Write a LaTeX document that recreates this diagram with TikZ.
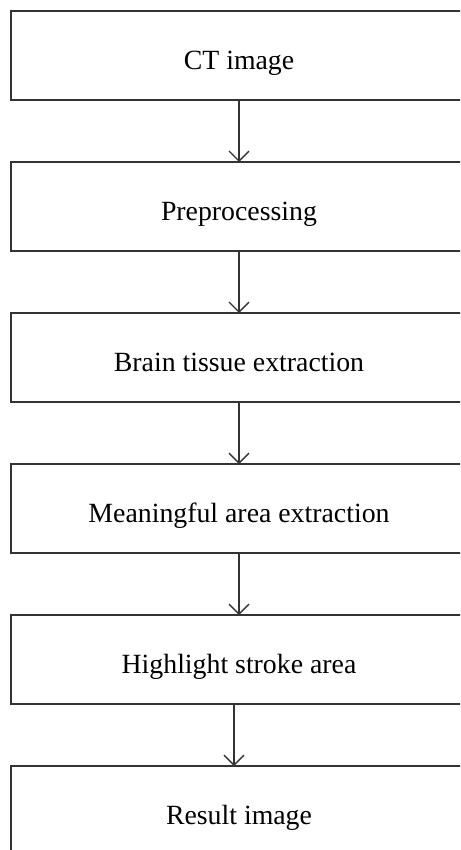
\documentclass[tikz,border=0pt]{standalone}
\usepackage{fontspec}
\setmainfont{Liberation Serif}
\usetikzlibrary{positioning,arrows.meta}

\begin{document}
\begin{tikzpicture}[x=1pt,y=1pt,inner sep=0pt,node distance=62pt,
  stage/.style={draw=black!80,line width=1.4pt,outer sep=0pt,minimum width=456pt,minimum height=89pt,
    text height=28pt,text depth=0pt,font=\fontsize{27.8}{33}\selectfont},
  flow/.style={draw=black!80,line width=1.4pt,-{Straight Barb[length=10pt,width=20pt]}}]
\clip (0,0) rectangle (460,-850);

\node[stage,anchor=north west] (ct) at (11,-11) {CT image};
\node[stage,below=of ct]  (pre) {Preprocessing};
\node[stage,below=of pre] (brain) {Brain tissue extraction};
\node[stage,below=of brain] (area) {Meaningful area extraction};
\node[stage,below=of area] (stroke) {Highlight stroke area};
\node[stage,below=of stroke] (res) {Result image};

\draw[flow] (ct) -- (pre);
\draw[flow] (pre) -- (brain);
\draw[flow] (brain) -- (area);
\draw[flow] (area) -- (stroke);
\draw[flow] ([xshift=-5pt]stroke.south) -- ([xshift=-5pt]res.north);
\end{tikzpicture}
\end{document}
